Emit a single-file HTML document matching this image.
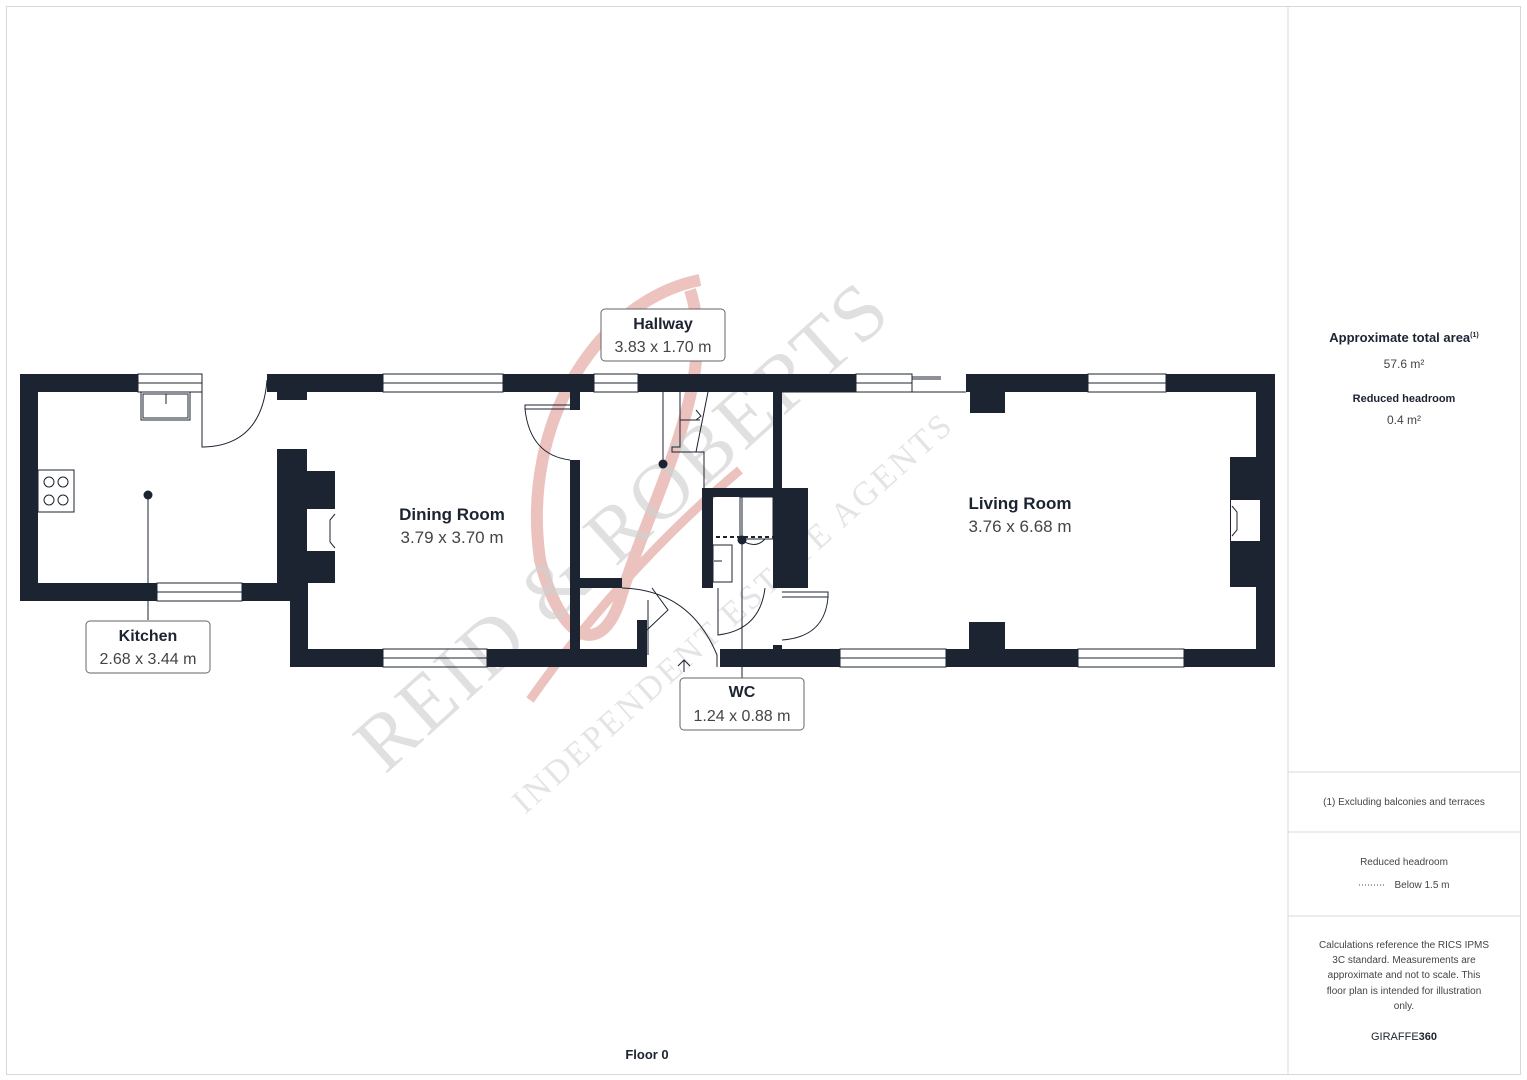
<!DOCTYPE html>
<html><head><meta charset="utf-8"><style>
html,body{margin:0;padding:0;background:#fff;}
body{width:1527px;height:1080px;position:relative;overflow:hidden;font-family:"Liberation Sans",sans-serif;}
svg{position:absolute;left:0;top:0;}
</style></head><body>
<svg width="1527" height="1080" viewBox="0 0 1527 1080" xmlns="http://www.w3.org/2000/svg">
<rect x="6.5" y="6.5" width="1514" height="1068" fill="none" stroke="#d8d8d8"/>
<line x1="1288" y1="6" x2="1288" y2="1075" stroke="#d8d8d8"/>
<line x1="1288" y1="772" x2="1521" y2="772" stroke="#d8d8d8"/>
<line x1="1288" y1="832" x2="1521" y2="832" stroke="#d8d8d8"/>
<line x1="1288" y1="916" x2="1521" y2="916" stroke="#d8d8d8"/>

<!-- watermark -->
<g opacity="0.3">
<path d="M700 280 C600 300 520 420 540 560 C560 640 600 660 620 600 C650 500 720 380 690 290" fill="none" stroke="#c0392b" stroke-width="12"/>
<path d="M530 700 C600 600 680 520 740 470" fill="none" stroke="#c0392b" stroke-width="9"/>
</g>
<text x="0" y="0" transform="translate(385,775) rotate(-42)" font-family="Liberation Serif,serif" font-size="80" fill="#cfcfcf" fill-opacity="0.65" letter-spacing="3">REID &amp; ROBERTS</text>
<text x="0" y="0" transform="translate(525,815) rotate(-42)" font-family="Liberation Serif,serif" font-size="34" fill="#d6d6d6" fill-opacity="0.65" letter-spacing="3">INDEPENDENT ESTATE AGENTS</text>

<g fill="#1c2331">
<rect x="20" y="374" width="118" height="18"/>
<rect x="20" y="374" width="18" height="227"/>
<rect x="20" y="583" width="137" height="18"/>
<rect x="242" y="583" width="48" height="18"/>
<rect x="267" y="374" width="116" height="18"/>
<rect x="277" y="392" width="30" height="8"/>
<rect x="277" y="449" width="30" height="152"/>
<rect x="307" y="471" width="28" height="112"/>
<rect x="290" y="583" width="18" height="84"/>
<rect x="290" y="649" width="93" height="18"/>
<rect x="487" y="649" width="158" height="18"/>
<rect x="503" y="374" width="91" height="18"/>
<rect x="570" y="392" width="10" height="18"/>
<rect x="570" y="460" width="10" height="190"/>
<rect x="580" y="578" width="42" height="10"/>
<rect x="637" y="620" width="10" height="47"/>
<rect x="638" y="374" width="218" height="18"/>
<rect x="773" y="392" width="9" height="96"/>
<rect x="702" y="488" width="106" height="9"/>
<rect x="702" y="488" width="11" height="100"/>
<rect x="773" y="488" width="35" height="100"/>
<rect x="773" y="645" width="9" height="8"/>
<rect x="720" y="649" width="120" height="18"/>
<rect x="966" y="374" width="122" height="18"/>
<rect x="1166" y="374" width="109" height="18"/>
<rect x="970" y="392" width="35" height="21"/>
<rect x="1256" y="374" width="19" height="293"/>
<rect x="1230" y="457" width="28" height="130"/>
<rect x="946" y="649" width="132" height="18"/>
<rect x="1184" y="649" width="91" height="18"/>
<rect x="969" y="622" width="36" height="27"/>
</g>
<g fill="#fff">
<rect x="307" y="509" width="28" height="42"/>
<rect x="1231" y="500" width="29" height="41"/>
</g>
<g fill="none" stroke="#1c2331" stroke-width="1">
<rect x="138" y="374" width="64" height="18"/><line x1="138" y1="383" x2="202" y2="383"/>
<rect x="157" y="583" width="85" height="18"/><line x1="157" y1="592" x2="242" y2="592"/>
<rect x="383" y="374" width="120" height="18"/><line x1="383" y1="383" x2="503" y2="383"/>
<rect x="383" y="649" width="104" height="18"/><line x1="383" y1="658" x2="487" y2="658"/>
<rect x="594" y="374" width="44" height="18"/><line x1="594" y1="383" x2="638" y2="383"/>
<rect x="856" y="374" width="56" height="18"/><line x1="856" y1="383" x2="912" y2="383"/>
<line x1="912" y1="377" x2="941" y2="377"/><line x1="912" y1="379" x2="941" y2="379"/>
<rect x="1088" y="374" width="78" height="18"/><line x1="1088" y1="383" x2="1166" y2="383"/>
<rect x="840" y="649" width="106" height="18"/><line x1="840" y1="658" x2="946" y2="658"/>
<rect x="1078" y="649" width="106" height="18"/><line x1="1078" y1="658" x2="1184" y2="658"/>
<line x1="782" y1="392" x2="966" y2="392"/>
<rect x="141" y="392" width="49" height="28"/><rect x="143" y="394" width="45" height="24"/><line x1="166" y1="394" x2="166" y2="404"/>
<rect x="38" y="470" width="36" height="42"/>
<circle cx="49" cy="482" r="5"/><circle cx="63" cy="482" r="5"/><circle cx="49" cy="500" r="5"/><circle cx="63" cy="500" r="5"/>
<path d="M202 380 V447 H204 M204 447 Q262 445 267 380"/>
<path d="M335 514 L330 520 V542 L335 548"/>
<path d="M1232 506 L1237 512 V530 L1232 536"/>
<path d="M570 405 H525 V409 H570 M525 409 Q530 455 570 460"/>
<path d="M648 600 V655 M652 588 L668 610 L647 630 M622 588 Q690 590 717 655 V667"/>
<path d="M680 392 V447 H672 V452 H704 V490 M680 420 H700 M708 392 L696 452 M696 410 L701 416 L696 420"/>
<rect x="740" y="497" width="33" height="42"/>
<path d="M740 539 Q755 550 765 539"/>
<rect x="713" y="545" width="19" height="37"/><line x1="714" y1="561" x2="722" y2="561"/>
<path d="M718 588 V635 Q760 630 765 588"/>
<line x1="742" y1="497" x2="742" y2="680"/>
<path d="M782 592 H828 V597 H782 M828 597 Q825 637 782 640"/>
<line x1="684" y1="672" x2="684" y2="660"/><path d="M678 666 L684 660 L690 666"/>
<line x1="148" y1="495" x2="148" y2="620"/>
<line x1="663" y1="463" x2="663" y2="392"/>
</g>
<line x1="702" y1="537" x2="790" y2="537" stroke="#1c2331" stroke-width="2" stroke-dasharray="4,3"/>
<g fill="#1c2331">
<circle cx="148" cy="495" r="4.5"/><circle cx="663" cy="464" r="4.5"/><circle cx="742" cy="540" r="4.5"/>
</g>

<g font-family="Liberation Sans,sans-serif" text-anchor="middle">
<rect x="601" y="309" width="124" height="52" rx="4" fill="#fff" stroke="#666"/>
<text x="663" y="329" font-size="16" font-weight="bold" fill="#1c2331">Hallway</text>
<text x="663" y="352" font-size="16" fill="#444">3.83 x 1.70 m</text>
<rect x="86" y="621" width="124" height="52" rx="4" fill="#fff" stroke="#666"/>
<text x="148" y="641" font-size="16" font-weight="bold" fill="#1c2331">Kitchen</text>
<text x="148" y="664" font-size="16" fill="#444">2.68 x 3.44 m</text>
<rect x="680" y="678" width="124" height="52" rx="4" fill="#fff" stroke="#666"/>
<text x="742" y="697" font-size="16" font-weight="bold" fill="#1c2331">WC</text>
<text x="742" y="721" font-size="16" fill="#444">1.24 x 0.88 m</text>
<text x="452" y="520" font-size="17" font-weight="bold" fill="#1c2331">Dining Room</text>
<text x="452" y="543" font-size="17" fill="#444">3.79 x 3.70 m</text>
<text x="1020" y="509" font-size="17" font-weight="bold" fill="#1c2331">Living Room</text>
<text x="1020" y="532" font-size="17" fill="#444">3.76 x 6.68 m</text>
<text x="647" y="1059" font-size="13" font-weight="bold" fill="#1c2331">Floor 0</text>
<text x="1404" y="342" font-size="13" font-weight="bold" fill="#1c2331">Approximate total area<tspan font-size="7" dy="-5">(1)</tspan></text>
<text x="1404" y="368" font-size="12" fill="#444">57.6 m²</text>
<text x="1404" y="402" font-size="11" font-weight="bold" fill="#1c2331">Reduced headroom</text>
<text x="1404" y="424" font-size="12" fill="#444">0.4 m²</text>
<text x="1404" y="805" font-size="10" fill="#444">(1) Excluding balconies and terraces</text>
<text x="1404" y="865" font-size="10" fill="#444">Reduced headroom</text>
<text x="1422" y="888" font-size="10" fill="#444">Below 1.5 m</text>
<text x="1404" y="948" font-size="10" fill="#444">Calculations reference the RICS IPMS</text>
<text x="1404" y="963" font-size="10" fill="#444">3C standard. Measurements are</text>
<text x="1404" y="978" font-size="10" fill="#444">approximate and not to scale. This</text>
<text x="1404" y="994" font-size="10" fill="#444">floor plan is intended for illustration</text>
<text x="1404" y="1009" font-size="10" fill="#444">only.</text>
<text x="1404" y="1040" font-size="11" fill="#1c2331">GIRAFFE<tspan font-weight="bold">360</tspan></text>
</g>
<line x1="1359" y1="885" x2="1384" y2="885" stroke="#444" stroke-dasharray="1,2"/>
</svg>
</body></html>
